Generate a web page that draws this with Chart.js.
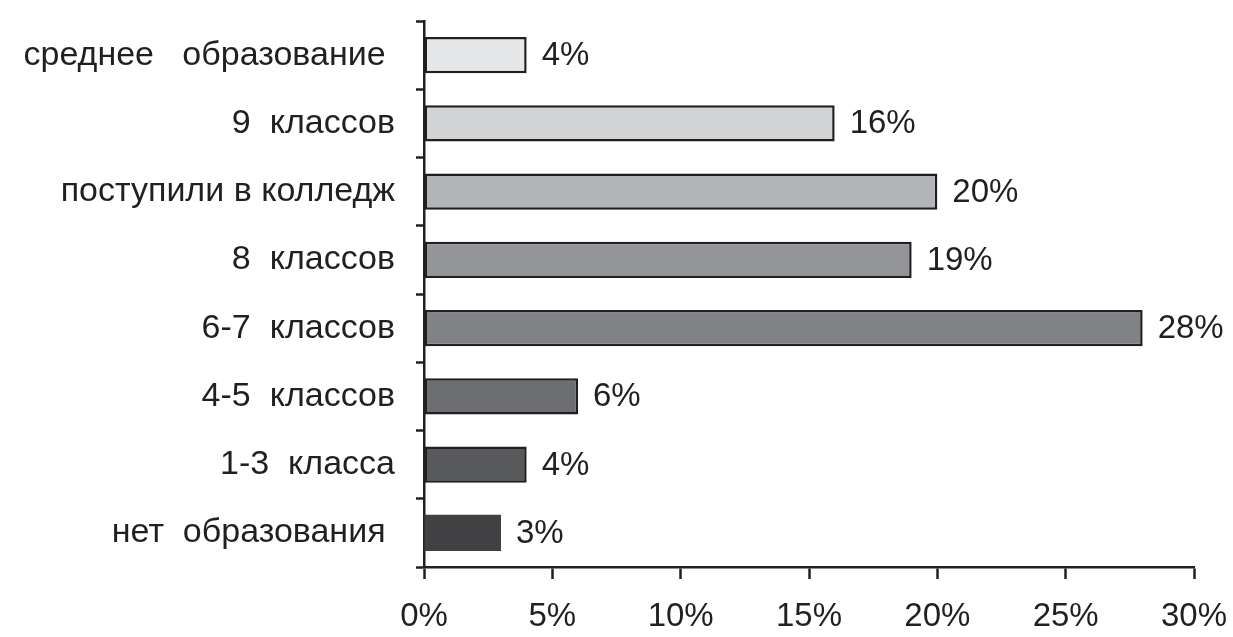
<!DOCTYPE html>
<html>
<head>
<meta charset="utf-8">
<script src="https://cdn.jsdelivr.net/npm/chart.js@4"></script>
<style>
  html, body { margin: 0; padding: 0; background: #fff; }
  #wrap { width: 1233px; height: 637px; }
</style>
</head>
<body>
<div id="wrap"><canvas id="chart-edu"></canvas></div>
<script>
// categories (top to bottom) and values, %
const labels_edu = [
    'среднее   образование ',
    '9  классов',
    'поступили в колледж',
    '8  классов',
    '6-7  классов',
    '4-5  классов',
    '1-3  класса',
    'нет  образования '
];
const values_edu = [4, 16, 20, 19, 28, 6, 4, 3];
const fills_edu = [
    '#e6e7e8', '#d1d3d4', '#b3b4b7', '#939598',
    '#808285', '#6d6e71', '#58595b', '#414042'
];
const borders_edu = [2.5, 2.5, 2.5, 2.5, 2.5, 2.5, 2.5, 0];
const x_ticks = [0, 5, 10, 15, 20, 25, 30];

const ink = '#231f20';
const fontFamily = '"Liberation Sans", Arial, sans-serif';

// value labels at the end of each bar
const valueLabels = {
    id: 'valueLabels',
    afterDatasetsDraw(chart) {
        const ctx = chart.ctx;
        const meta = chart.getDatasetMeta(0);
        ctx.save();
        ctx.fillStyle = ink;
        ctx.font = '33px ' + fontFamily;
        ctx.textAlign = 'left';
        ctx.textBaseline = 'middle';
        meta.data.forEach(function(bar, i) {
            ctx.fillText(values_edu[i] + '%', bar.x + 15, bar.y + 1);
        });
        ctx.restore();
    }
};

var ctx = document.getElementById('chart-edu');
const eduChart = new Chart(ctx, {
    type: 'bar',
    data: {
        labels: labels_edu,
        datasets: [
            {
                data: values_edu,
                backgroundColor: fills_edu,
                borderColor: ink,
                borderWidth: borders_edu,
                borderSkipped: false,
                barPercentage: 0.53,
                categoryPercentage: 1
            }
        ]
    },
    options: {
        indexAxis: 'y',
        responsive: true,
        maintainAspectRatio: false,
        animation: false,
        layout: {
            padding: { top: 21, right: 39, bottom: 0, left: 0 }
        },
        plugins: {
            legend: { display: false },
            tooltip: { enabled: false }
        },
        scales: {
            x: {
                type: 'linear',
                min: 0,
                max: 30,
                afterBuildTicks: function(scale) {
                    scale.ticks = x_ticks.map(function(v) { return { value: v }; });
                },
                afterFit: function(scale) {
                    scale.height = 70;
                    scale.paddingLeft = 0;
                    scale.paddingRight = 0;
                },
                border: { display: true, color: ink, width: 2.5 },
                grid: {
                    drawOnChartArea: false,
                    drawTicks: true,
                    tickLength: 12,
                    tickWidth: 2.5,
                    tickColor: ink
                },
                ticks: {
                    color: ink,
                    padding: 18,
                    maxRotation: 0,
                    font: { family: fontFamily, size: 33 },
                    callback: function(v) { return v + '%'; }
                }
            },
            y: {
                afterFit: function(scale) {
                    scale.width = 424;
                    scale.paddingTop = 0;
                    scale.paddingBottom = 0;
                },
                border: { display: true, color: ink, width: 2.5 },
                grid: {
                    offset: true,
                    drawOnChartArea: false,
                    drawTicks: true,
                    tickLength: 8,
                    tickWidth: 2.5,
                    tickColor: ink
                },
                ticks: {
                    color: ink,
                    padding: 21,
                    font: { family: fontFamily, size: 34 }
                }
            }
        }
    },
    plugins: [valueLabels]
});
</script>
</body>
</html>
